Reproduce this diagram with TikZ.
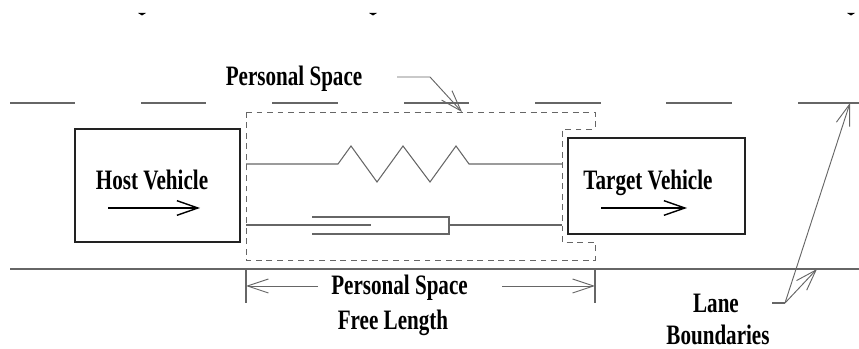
\documentclass[tikz,border=0pt]{standalone}
\usepackage{fontspec}
\setmainfont{Liberation Serif}[FakeStretch=0.75]
\usetikzlibrary{arrows.meta, positioning}
\definecolor{cline}{HTML}{666666}
\definecolor{cbox}{HTML}{222222}
\tikzset{
  every picture/.style={line width=.8pt},
  thinline/.style={draw=cline, line width=.9pt},
  barb/.style={-{Straight Barb[length=6.3mm, width=4.2mm]}, draw=cline, line width=.8pt},
  vehicle/.style={draw=cbox, line width=1.4pt},
  move/.style={-{Straight Barb[length=6.3mm, width=4.4mm]}, draw=black, line width=1.2pt},
  space/.style={draw=cline, line width=.8pt, dash pattern=on 5pt off 4pt},
  label/.style={font=\fontsize{24}{28}\selectfont\bfseries, inner sep=0pt, text=black, anchor=base},
}

\begin{document}
\begin{tikzpicture}[x=.03cm, y=-.03cm]
  \useasboundingbox (0,0) rectangle (859,349);
  % lane boundaries
  \foreach \xa/\xb in {10/75, 141/206, 272/338, 404/469, 535/601, 666/732, 798/859}
    \draw[thinline] (\xa,103) -- (\xb,103);
  \draw[thinline] (10,269) -- (859,269);
  \foreach \xm in {142,373,851}
    \fill (\xm-4,13) -- (\xm+4,13) -- (\xm,15.5) -- cycle;
  % vehicles
  \node[vehicle, minimum width=4.95cm, minimum height=3.39cm, inner sep=0pt] (host) at (157.5,185.5) {};
  \node[vehicle, minimum width=5.31cm, minimum height=2.88cm, inner sep=0pt] (target) at (656.5,186) {};
  \node[label] (hostlabel) at (152,190) {Host Vehicle};
  \node[label] (targetlabel) at (648,190) {Target Vehicle};
  \coordinate (hostfrom) at (108,208);
  \coordinate (hostto) at (200,208);
  \coordinate (targetfrom) at (601,208);
  \coordinate (targetto) at (687,208);
  \draw[move] (hostfrom) -- (hostto);
  \draw[move] (targetfrom) -- (targetto);
  % personal space outline
  \draw[space] (246,112) -- (595,112) -- (595,129) -- (562,129) -- (562,242) -- (595,242) -- (595,260) -- (246,260) -- cycle;
  % spring
  \coordinate (springa) at (246,164);
  \coordinate (springb) at (562,164);
  \draw[thinline] (springa) -- (338,164) -- (351,146) -- (377,182) -- (403,146) -- (430,182) -- (456,146) -- (469,164) -- (springb);
  % damper
  \coordinate (dampera) at (246,225);
  \coordinate (damperb) at (562,225);
  \draw[thinline] (dampera) -- (371,225);
  \draw[thinline] (312,217) -- (449,217) -- (449,234) -- (312,234);
  \draw[thinline] (449,225) -- (damperb);
  % free length
  \coordinate (lefttick) at (246,286);
  \coordinate (righttick) at (595,286);
  \draw[thinline] (246,269) -- (246,303);
  \draw[thinline] (595,269) -- (595,303);
  \node[label] (freea) at (399.5,295) {Personal Space};
  \node[label] (freeb) at (393,330) {Free Length};
  \draw[barb] (318,286) -- (lefttick);
  \draw[barb] (502,286) -- (righttick);
  % labels
  \node[label] (spacelabel) at (294,86) {Personal Space};
  \coordinate (spacetip) at (462,112);
  \draw[barb] (397,77) -- (430,77) -- (spacetip);
  \node[label] (lanea) at (716,313) {Lane};
  \node[label] (laneb) at (718,345) {Boundaries};
  \coordinate (lanefork) at (785,303);
  \coordinate (lanetop) at (850,103);
  \coordinate (lanebot) at (817,269);
  \draw[thinline] (772,303) -- (lanefork);
  \draw[barb] (lanefork) -- (lanetop);
  \draw[barb] (lanefork) -- (lanebot);
\end{tikzpicture}
\end{document}
